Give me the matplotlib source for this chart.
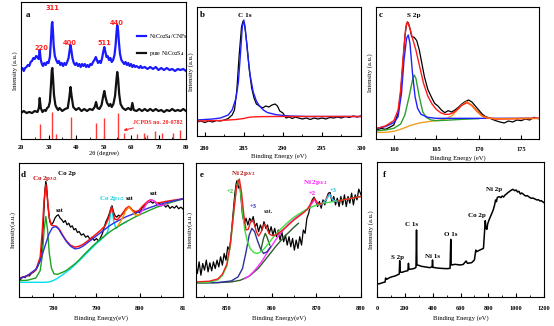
import matplotlib.pyplot as plt
from matplotlib.ticker import MultipleLocator

plt.rcParams['font.family'] = 'Liberation Serif'
plt.rcParams['font.weight'] = 'bold'
plt.rcParams['mathtext.fontset'] = 'stix'

# ---------------- (a) XRD ----------------
a_tt_cnf = [20, 20.5, 21, 21.5, 22, 22.5, 23, 23.5, 24, 24.5, 25, 25.5, 26, 26.4, 26.8, 27.2, 27.6, 28, 28.5, 29,
            29.5, 30, 30.5, 30.9, 31.2, 31.4, 31.6, 31.9, 32.3, 32.8, 33.3, 33.8, 34.3, 34.8, 35.3, 35.8, 36.3, 36.8,
            37.3, 37.7, 38, 38.3, 38.7, 39.2, 39.7, 40.2, 40.7, 41.2, 41.7, 42.2, 42.7, 43.2, 43.7, 44.2, 44.7, 45.2,
            45.7, 46.2, 46.7, 47.2, 47.6, 48, 48.5, 49, 49.5, 49.9, 50.3, 50.7, 51.1, 51.5, 52, 52.5, 53, 53.5, 54,
            54.4, 54.8, 55, 55.3, 55.6, 56, 56.5, 57, 57.5, 58, 58.5, 59, 59.5, 60, 60.5, 61, 61.5, 62, 63, 63.5, 64,
            65, 66, 67, 68, 69, 70, 71, 72, 73, 74, 75, 76, 77, 78, 79, 80]
a_int_cnf = [69, 71, 68, 71, 72, 74, 73, 77, 78, 81, 80, 83, 82, 80, 89, 79, 75, 73, 76, 74,
             77, 76, 82, 99, 115, 117, 109, 93, 83, 79, 76, 78, 74, 76, 73, 76, 74, 77,
             81, 89, 94, 89, 81, 76, 74, 76, 73, 75, 72, 75, 73, 75, 72, 74, 72, 75,
             74, 77, 79, 82, 79, 76, 78, 76, 81, 87, 92, 87, 82, 83, 79, 81, 77, 79, 84,
             94, 109, 114, 109, 97, 85, 79, 77, 75, 77, 74, 76, 73, 75, 72, 74, 72, 73, 71, 73, 71,
             72, 70, 72, 70, 72, 69, 71, 69, 71, 69, 70, 68, 70, 69, 70, 68]
a_tt_pure = [20, 21, 22, 23, 24, 25, 26, 26.5, 26.8, 27.2, 27.8, 28.5, 29, 29.5, 30, 30.5, 30.9, 31.2, 31.4, 31.6,
             32, 32.5, 33, 33.5, 34, 35, 36, 37, 37.6, 38, 38.4, 39, 40, 41, 42, 43, 44, 45, 46, 46.8, 47.3, 47.8,
             48.5, 49.3, 49.9, 50.3, 50.8, 51.3, 52, 52.5, 53, 53.6, 54.2, 54.7, 55, 55.3, 55.7, 56.2, 57, 58, 59,
             60, 60.5, 61, 62, 63, 64, 65, 66, 67, 68, 69, 70, 71, 72, 73, 74, 75, 76, 77, 78, 79, 80]
a_int_pure = [26, 28, 26, 27, 26, 28, 27, 31, 41, 31, 27, 29, 28, 31, 32, 37, 54, 69, 71, 63,
              44, 34, 31, 29, 31, 28, 30, 31, 42, 52, 43, 32, 29, 31, 28, 30, 28, 30, 29, 32, 37, 31,
              30, 34, 43, 48, 41, 36, 33, 35, 32, 35, 43, 59, 67, 61, 45, 35, 31, 29, 31,
              29, 36, 29, 28, 30, 28, 30, 28, 30, 28, 30, 28, 29, 27, 29, 28, 30, 28, 29, 28, 30, 28]
a_ref_pos = [26.8, 31.3, 32.8, 38.0, 47.2, 50.2, 55.1, 57.6, 62.2, 64.9, 65.8, 68.9, 71.3, 75.4, 77.8]
a_ref_int = [15, 27, 5, 22, 16, 21, 26, 6, 5, 6, 4, 8, 6, 6, 9]
a_hkl = ['220', '311', '400', '511', '440']
a_hkl_pos = [(27.3, 91), (31.3, 131), (37.8, 96), (50.2, 96), (54.9, 116)]

# ---------------- (b) C 1s ----------------
b_be_raw = [279, 279.5, 280, 280.5, 281, 281.5, 282, 282.5, 283, 283.5, 283.8, 284.1, 284.4, 284.7, 284.9, 285.1,
            285.4, 285.7, 286, 286.3, 286.6, 287, 287.4, 287.8, 288.2, 288.6, 289, 289.3, 289.6, 290, 290.4, 290.8,
            291.2, 291.6, 292, 292.5, 293, 293.5, 294, 294.5, 295, 295.5, 296, 296.5, 297, 297.5, 298, 298.5, 299,
            299.5, 300]
b_int_raw = [42, 45, 40.5, 45, 42, 46.5, 45, 48, 52.5, 63, 78, 138, 243, 327, 345, 333,
             273, 198, 144, 114, 96, 90, 84, 90, 87, 93, 96, 90, 75, 69, 54, 57,
             52.5, 57, 54, 51, 54, 49.5, 54, 51, 54, 51, 55.5, 54, 57, 54, 58.5, 55.5, 60,
             57, 60]
b_be_fit = [279, 280, 281, 282, 283, 283.5, 284, 284.3, 284.6, 284.8, 285, 285.2, 285.5, 285.8, 286.2, 286.6,
            287, 287.5, 288, 289, 290, 291, 293, 300]
b_int_fit = [48, 49.5, 51, 54, 63, 78, 114, 162, 258, 327, 348, 318, 243, 183, 132, 105,
             90, 78, 70.5, 64.5, 61.5, 60, 58.5, 58.5]
b_be_bg = [279, 282, 283, 284, 285, 285.5, 286, 287, 289, 300]
b_int_bg = [45, 46.5, 48, 49.5, 52.5, 55.5, 57, 58, 58.5, 58.5]

# ---------------- (c) S 2p ----------------
c_be_raw = [158, 158.5, 159, 159.5, 160, 160.5, 160.8, 161.1, 161.3, 161.5, 161.7, 161.9, 162.1, 162.4, 162.7, 163,
            163.3, 163.6, 164, 164.4, 164.8, 165.2, 165.6, 166, 166.4, 166.8, 167.2, 167.6, 168, 168.4, 168.8,
            169.2, 169.6, 170, 170.4, 170.8, 171.2, 171.6, 172, 172.5, 173, 173.5, 174, 174.5, 175, 175.5, 176,
            176.5, 177]
c_int_raw = [27, 32, 29, 35, 42, 77, 137, 237, 307, 347, 349, 332, 307, 305, 295, 267,
             227, 187, 149, 127, 107, 99, 87, 79, 85, 81, 87, 95, 105, 112, 117,
             111, 99, 87, 75, 67, 64, 59, 55, 51, 48, 54, 51, 57, 55, 60, 57,
             65, 61]
c_be_sum = [158, 159, 160, 160.5, 160.8, 161.1, 161.4, 161.6, 161.9, 162.2, 162.6, 163, 163.5, 164, 164.5, 165,
            165.5, 166, 166.5, 167, 167.5, 168, 168.6, 169.2, 169.8, 170.4, 171, 172, 177]
c_int_sum = [32, 39, 55, 87, 147, 247, 332, 352, 332, 302, 267, 222, 167, 129, 105, 89,
             79, 74, 74, 79, 89, 101, 109, 101, 84, 70, 63, 60, 62]
c_be_p32 = [158, 159, 160, 160.5, 160.9, 161.2, 161.5, 161.7, 161.9, 162.2, 162.5, 162.8, 163.2, 164, 165, 177]
c_int_p32 = [32, 37, 49, 67, 137, 237, 302, 312, 287, 197, 127, 92, 74, 65, 62, 62]
c_be_p12 = [158, 159, 160, 160.8, 161.3, 161.8, 162.2, 162.4, 162.6, 163, 163.4, 163.8, 164.4, 165, 166, 168, 170]
c_int_p12 = [25, 27, 32, 45, 72, 127, 177, 192, 182, 127, 82, 65, 57, 55, 56, 59, 61]
c_be_sat = [158, 159, 160, 161, 162, 163, 164, 165, 166, 166.8, 167.4, 168, 168.6, 169.2, 169.8, 170.4, 171, 172,
            177]
c_int_sat = [20, 20, 23, 31, 41, 48, 52, 55, 59, 69, 84, 102, 112, 100, 83, 69, 63, 61, 62]

# ---------------- (d) Co 2p ----------------
d_be_raw = [772, 772.5, 773, 773.5, 774, 774.5, 775, 775.5, 776, 776.5, 777, 777.5, 777.8, 778.1, 778.3, 778.5,
            778.8, 779.2, 779.6, 780, 780.4, 780.8, 781.2, 781.6, 782, 782.4, 782.8, 783.2, 783.6, 784, 784.4,
            784.8, 785.2, 785.6, 786, 786.5, 787, 787.5, 788, 788.5, 789, 789.5, 790, 790.5, 791, 791.4, 791.8,
            792.2, 792.6, 793, 793.4, 793.6, 793.9, 794.3, 794.7, 795.1, 795.5, 796, 796.5, 797, 797.5, 798,
            798.5, 799, 799.5, 800, 800.5, 801, 801.5, 802, 802.5, 803, 803.5, 804, 804.5, 805, 805.5, 806,
            806.5, 807, 807.5, 808, 808.5, 809, 809.5, 810]
d_int_raw = [56, 53, 61, 58, 65, 63, 71, 75, 81, 93, 111, 161, 241, 321, 346, 331,
             271, 226, 216, 223, 236, 243, 246, 236, 231, 223, 229, 216, 221, 209, 213,
             201, 205, 193, 196, 185, 189, 179, 183, 173, 179, 169, 175, 167, 179, 191, 209,
             226, 236, 251, 269, 273, 256, 243, 239, 245, 241, 249, 256, 263, 271, 265,
             256, 249, 255, 253, 266, 271, 279, 283, 286, 281, 285, 276, 281, 273, 279, 269,
             275, 265, 271, 266, 273, 264, 269, 263]
d_be_sum = [772, 774, 776, 777, 777.5, 777.9, 778.3, 778.7, 779.1, 779.6, 780.2, 780.8, 781.5, 782.2, 783, 784,
            785, 786, 787, 788, 789, 790, 791, 792, 792.8, 793.2, 793.5, 793.8, 794.2, 794.8, 795.5, 796.2,
            796.8, 797.5, 798.2, 799, 799.8, 800.6, 801.4, 802, 802.6, 803.2, 804, 805, 806, 807, 808, 809, 810]
d_int_sum = [56, 63, 81, 119, 201, 291, 336, 291, 236, 215, 213, 211, 201, 185, 169, 155,
             149, 152, 158, 168, 178, 189, 200, 213, 236, 256, 269, 256, 233, 231, 241, 253,
             265, 271, 261, 255, 259, 271, 281, 288, 291, 288, 281, 283, 286, 288, 290, 292, 294]
d_be_sat1 = [772, 774, 776, 777, 778, 779, 779.8, 780.5, 781.2, 782, 783, 784, 785, 786, 787, 788, 789, 790, 791,
             792, 793, 794, 795, 796, 797, 798, 799, 800, 802, 804, 806, 808, 810]
d_int_sat1 = [54, 64, 83, 108, 148, 188, 207, 211, 205, 187, 167, 152, 144, 146, 153, 163, 173, 183, 193,
              203, 213, 221, 228, 235, 241, 246, 251, 256, 266, 275, 282, 288, 294]
d_be_main = [772, 774, 776, 777, 777.5, 777.9, 778.3, 778.7, 779.1, 779.6, 780.2, 781, 782, 783, 784, 785, 786,
             787, 788, 789, 790, 791, 792, 793, 794, 795, 796, 797, 798, 799, 800, 802, 804, 806, 808, 810]
d_int_main = [49, 50, 57, 79, 126, 201, 241, 201, 131, 86, 69, 68, 73, 79, 89, 99, 111,
              125, 138, 151, 163, 174, 184, 194, 203, 211, 219, 226, 233, 240, 246, 258, 269, 278, 286, 293]
d_be_p12 = [772, 774, 776, 778, 779, 780, 781, 782, 784, 786, 788, 790, 791, 792, 792.6, 793, 793.5, 794, 794.5,
            795, 796, 797]
d_int_p12 = [44, 44, 44, 44, 45, 49, 56, 65, 84, 108, 134, 160, 171, 183, 196, 226, 269, 226, 205,
             211, 219, 226]
d_be_sat2 = [795, 796, 796.8, 797.5, 798.2, 799, 800]
d_int_sat2 = [213, 236, 259, 269, 259, 245, 246]
d_be_sat3 = [800, 801, 801.8, 802.6, 803.4, 804.2, 805, 806]
d_int_sat3 = [249, 266, 283, 291, 286, 276, 273, 278]

# ---------------- (e) Ni 2p ----------------
e_be_raw = [843, 843.4, 843.8, 844.2, 844.6, 845, 845.4, 845.8, 846.2, 846.6, 847, 847.4, 847.8, 848.2, 848.6, 849,
            849.4, 849.8, 850.2, 850.6, 851, 851.4, 851.8, 852.1, 852.3, 852.6, 852.9, 853.2, 853.5, 853.9, 854.3,
            854.7, 855.1, 855.5, 855.9, 856.3, 856.7, 857.1, 857.5, 857.9, 858.3, 858.7, 859.1, 859.5, 859.9,
            860.3, 860.7, 861.1, 861.5, 861.9, 862.3, 862.7, 863.1, 863.5, 863.9, 864.3, 864.7, 865.1, 865.5,
            865.9, 866.3, 866.7, 867.1, 867.5, 867.9, 868.3, 868.7, 869.1, 869.5, 869.9, 870.3, 870.7, 871.1,
            871.5, 871.9, 872.3, 872.7, 873.1, 873.5, 873.9, 874.3, 874.7, 875.1, 875.5, 875.9, 876.3, 876.7,
            877.1, 877.5, 877.9, 878.3, 878.7, 879.1, 879.5, 880]
e_int_raw = [100, 70, 105, 65, 100, 80, 110, 75, 102, 78, 105, 85, 110, 90, 120, 95,
             130, 110, 150, 140, 190, 250, 310, 340, 348, 325, 335, 290, 245, 220, 235,
             215, 235, 225, 240, 210, 220, 195, 215, 200, 225, 205, 215, 190, 210,
             185, 205, 180, 200, 170, 195, 165, 185, 155, 180, 150, 175, 140, 170,
             145, 180, 155, 200, 190, 235, 250, 275, 290, 298, 285, 270, 285, 265,
             290, 275, 295, 310, 312, 285, 300, 275, 295, 270, 300, 275, 305, 270,
             300, 280, 310, 275, 305, 290, 322, 305]
e_be_sum = [843, 846, 848, 849, 850, 850.8, 851.5, 852.2, 852.8, 853.3, 853.8, 854.3, 854.8, 855.2, 855.6, 856.1,
            856.6, 857.1, 857.7, 858.1, 858.5, 858.9, 859.5, 860.2, 861, 862, 863, 864, 865, 866, 867, 868,
            868.8, 869.6, 870.4, 871.2, 872, 872.6, 873, 873.6, 874.5, 876, 878, 880]
e_int_sum = [45, 47, 54, 68, 98, 160, 250, 330, 352, 310, 245, 200, 202, 220, 230, 220,
             195, 182, 195, 212, 218, 205, 188, 183, 186, 195, 206, 218, 230, 240, 250, 262,
             280, 295, 278, 278, 288, 302, 307, 290, 285, 290, 295, 300]
e_be_ni2 = [843, 846, 848, 849, 850, 850.8, 851.5, 852.1, 852.6, 853, 853.5, 854, 854.6, 855.3, 856, 856.8, 857.6,
            858.4, 859.2, 860, 861, 862, 863, 864, 865, 866, 867, 868, 869, 870, 872, 874, 876, 878, 880]
e_int_ni2 = [42, 44, 51, 64, 92, 155, 245, 325, 350, 325, 255, 200, 165, 143, 133, 130, 135,
             145, 158, 172, 188, 202, 215, 227, 238, 247, 255, 263, 269, 274, 281, 285, 290, 295, 300]
e_be_ni3 = [843, 848, 851, 852.5, 853.5, 854.3, 855, 855.6, 856.2, 856.8, 857.5, 858.2, 859, 859.8]
e_int_ni3 = [42, 43, 48, 60, 85, 135, 185, 205, 195, 170, 145, 130, 135, 150]
e_be_bg = [843, 848, 851, 853, 855, 857, 859, 861, 863, 865, 866]
e_int_bg = [42, 43, 45, 50, 62, 85, 118, 152, 182, 208, 220]
e_be_sat = [857.6, 858.2, 858.6, 859, 859.6]
e_int_sat = [140, 175, 190, 178, 155]
e_be_p12 = [854, 855, 856, 857, 858, 859, 860, 861, 862, 863, 864, 865, 866, 867, 868, 868.8, 869.6, 870.4, 871]
e_int_p12 = [55, 63, 76, 92, 110, 132, 152, 172, 190, 206, 220, 232, 243, 252, 262, 275, 290, 276, 275]
e_be_p12b = [871.5, 872.3, 873, 873.7, 874.5]
e_int_p12b = [280, 292, 307, 290, 285]

# ---------------- (f) survey ----------------
f_be = [0, 20, 40, 58, 62, 70, 90, 110, 130, 150, 160, 163, 166, 180, 200, 222, 226, 230, 250, 270, 280, 284, 287,
        300, 320, 350, 380, 396, 399, 402, 430, 460, 500, 525, 530, 533, 560, 600, 620, 640, 650, 680, 700, 710,
        716, 730, 750, 765, 772, 778, 783, 790, 795, 805, 815, 825, 835, 845, 852, 858, 865, 880, 890, 900, 910,
        920, 930, 940, 950, 960, 975, 990, 1000, 1010, 1020, 1030, 1040, 1050, 1060, 1070, 1080, 1090, 1100,
        1110, 1120, 1130, 1140, 1150, 1160, 1170, 1180, 1190, 1200]
f_int = [39, 40, 43, 45, 57, 53, 58, 61, 63, 67, 69, 109, 75, 74, 77, 79, 101, 83, 84, 86, 89, 201, 96,
         95, 92, 90, 88, 91, 111, 89, 87, 86, 85, 86, 173, 96, 98, 96, 98, 108, 101, 103, 111, 141,
         136, 139, 143, 146, 191, 229, 206, 203, 219, 231, 241, 251, 261, 276, 291, 286, 299, 301, 298, 303, 300,
         306, 309, 313, 316, 319, 323, 319, 321, 315, 317, 309, 312, 309, 305, 303, 304, 301, 298,
         296, 297, 295, 293, 291, 292, 288, 289, 286, 283]
f_labels = [('S 2p', 147, 119), ('C 1s', 250, 216), ('Ni 1s', 397, 123), ('O 1s', 530, 189),
            ('Co 2p', 720, 246), ('Ni 2p', 844, 321)]

W, H = 554, 326
fig = plt.figure(figsize=(W / 100, H / 100), dpi=100)


def add_panel(left, top, right, bottom, tick_pad):
    ax = fig.add_axes([left / W, 1 - bottom / H, (right - left) / W, (bottom - top) / H])
    ax.tick_params(axis='x', which='major', direction='in', length=3, width=0.8, labelsize=4.6, pad=tick_pad)
    ax.tick_params(axis='x', which='minor', direction='in', length=1.6, width=0.6)
    ax.tick_params(axis='y', which='both', left=False, labelleft=False)
    for sp in ax.spines.values():
        sp.set_linewidth(0.8)
    ax.set_ylabel('Intensity (a.u.)', fontsize=4.8, labelpad=2)
    return ax


def tag(ax, letter, x, y):
    ax.text(x, y, letter, fontsize=6.5, fontweight='bold', ha='left', va='center')


# (a)
ax = add_panel(21, 2, 186, 139, 4.3)
ax.plot(a_tt_cnf, a_int_cnf, color='#1a1aff', lw=1.6, label='NiCo$_2$S$_4$/CNFs')
ax.plot(a_tt_pure, a_int_pure, color='#111111', lw=1.6, label='pure NiCo$_2$S$_4$')
ax.vlines(a_ref_pos, 0, a_ref_int, color='#ff3a3a', lw=1.0)
for txt, (x, y) in zip(a_hkl, a_hkl_pos):
    ax.text(x, y, txt, color='#ff2020', fontsize=4.8, ha='center', va='center', family='DejaVu Sans')
ax.annotate('JCPDS no. 20-0782', xy=(56.3, 8), xytext=(60.7, 17), color='#ff2020', fontsize=4.3,
            va='center', ha='left', arrowprops=dict(arrowstyle='->', color='#ff2020', lw=0.7))
ax.set_xlim(20, 80)
ax.set_ylim(0, 137)
ax.xaxis.set_major_locator(MultipleLocator(10))
ax.xaxis.set_minor_locator(MultipleLocator(5))
ax.set_xlabel('2θ (degree)', fontsize=4.8, labelpad=0.5)
ax.legend(loc='upper left', bbox_to_anchor=(0.67, 0.82), frameon=False, handlelength=1.6,
          prop={'size': 4.3, 'weight': 'normal'}, labelspacing=1.3, handletextpad=0.4)
tag(ax, 'a', 21.6, 124)

# (b)
ax = add_panel(197, 7, 361, 136, 7)
ax.plot(b_be_raw, b_int_raw, color='black', lw=0.9)
ax.plot(b_be_fit, b_int_fit, color='#1f1fff', lw=1.0)
ax.plot(b_be_bg, b_int_bg, color='#ff1a1a', lw=1.0)
ax.text(285.1, 363, 'C 1s', fontsize=5.2, ha='center', va='center')
ax.set_xlim(279, 300)
ax.set_ylim(0, 387)
ax.xaxis.set_major_locator(MultipleLocator(5))
ax.xaxis.set_minor_locator(MultipleLocator(2.5))
ax.set_xlabel('Binding Energy (eV)', fontsize=4.8, labelpad=2)
tag(ax, 'b', 279.4, 363)

# (c)
ax = add_panel(376, 7, 539, 139, 5.8)
ax.plot(c_be_raw, c_int_raw, color='black', lw=0.9)
ax.plot(c_be_sat, c_int_sat, color='#f0a020', lw=1.0)
ax.plot(c_be_p12, c_int_p12, color='#2ca02c', lw=1.0)
ax.plot(c_be_p32, c_int_p32, color='#2020ff', lw=1.0)
ax.plot(c_be_sum, c_int_sum, color='#ff1a1a', lw=1.0)
ax.plot(c_be_sat[-7:], c_int_sat[-7:], color='#ff7010', lw=1.0)
ax.text(162.3, 372, 'S 2p', fontsize=5.2, ha='center', va='center')
ax.set_xlim(157.9, 177.1)
ax.set_ylim(0, 396)
ax.xaxis.set_major_locator(MultipleLocator(5))
ax.xaxis.set_minor_locator(MultipleLocator(2.5))
ax.set_xlabel('Binding Energy (eV)', fontsize=4.8, labelpad=2)
tag(ax, 'c', 158.2, 372)

# (d)
ax = add_panel(19, 163, 183, 297, 6.8)
ax.plot(d_be_raw, d_int_raw, color='black', lw=0.9)
ax.plot(d_be_p12, d_int_p12, color='#00e0f0', lw=1.0)
ax.plot(d_be_main, d_int_main, color='#20a020', lw=1.0)
ax.plot(d_be_sum, d_int_sum, color='#ff1010', lw=1.1)
ax.plot(d_be_sat1, d_int_sat1, color='#3030e0', lw=1.0)
ax.plot(d_be_sat2, d_int_sat2, color='#ff8c00', lw=1.0)
ax.plot(d_be_sat3, d_int_sat3, color='#ff30ff', lw=1.0)
ax.text(778.1, 356, 'Co 2p$_{3/2}$', color='#c01010', fontsize=5, ha='center', va='center')
ax.text(783.1, 369, 'Co 2p', fontsize=5, ha='center', va='center')
ax.text(781.4, 258, 'sat', fontsize=4.5, ha='center', va='center')
ax.text(793.5, 294, 'Co 2p$_{1/2}$', color='#10d0e0', fontsize=5, ha='center', va='center')
ax.text(797.7, 294, 'sat', fontsize=4.5, ha='center', va='center')
ax.text(803.1, 311, 'sat', fontsize=4.5, ha='center', va='center')
ax.set_xlim(772.1, 810)
ax.set_ylim(0, 401)
ax.set_xticks([780, 790, 800, 810])
ax.set_xticklabels(['780', '790', '800', '81'])
ax.xaxis.set_minor_locator(MultipleLocator(5))
ax.set_xlabel('Binding Energy(eV)', fontsize=4.8, labelpad=3)
ax.set_ylabel('Intensity(a.u.)', fontsize=4.8, labelpad=2)
tag(ax, 'd', 772.5, 366)

# (e)
ax = add_panel(196, 163, 361, 297, 6.8)
ax.plot(e_be_raw, e_int_raw, color='black', lw=0.9)
ax.plot(e_be_bg, e_int_bg, color='#2e5e2e', lw=1.0)
ax.plot(e_be_p12, e_int_p12, color='#ff30ff', lw=1.0)
ax.plot(e_be_ni3, e_int_ni3, color='#303099', lw=1.0)
ax.plot(e_be_sat, e_int_sat, color='#2e5e2e', lw=1.0)
ax.plot(e_be_ni2, e_int_ni2, color='#40e040', lw=1.0)
ax.plot(e_be_sum, e_int_sum, color='#ee2020', lw=1.0)
ax.plot(e_be_p12b, e_int_p12b, color='#30c8e8', lw=1.0)
ax.text(853.7, 370, 'Ni 2p$_{3/2}$', color='#b01818', fontsize=5, ha='center', va='center')
ax.text(850.8, 315, '+2', color='#30c030', fontsize=4.8, ha='center', va='center')
ax.text(856.0, 270, '+3', color='#3030b0', fontsize=4.8, ha='center', va='center')
ax.text(859.4, 255, 'sat.', color='#333333', fontsize=4.5, ha='center', va='center')
ax.text(869.7, 342, 'Ni 2p$_{1/2}$', color='#ff10ff', fontsize=5, ha='center', va='center')
ax.text(869.0, 310, '+2', color='#ff10ff', fontsize=4.8, ha='center', va='center')
ax.text(873.8, 318, '+3', color='#20c0e0', fontsize=4.8, ha='center', va='center')
ax.set_xlim(843.1, 880)
ax.set_ylim(0, 400)
ax.xaxis.set_major_locator(MultipleLocator(10))
ax.xaxis.set_minor_locator(MultipleLocator(5))
ax.set_xlabel('Binding Energy(eV)', fontsize=4.8, labelpad=3)
ax.set_ylabel('Intensity(a.u.)', fontsize=4.8, labelpad=2)
tag(ax, 'e', 844, 365)

# (f)
ax = add_panel(377, 162, 544, 297, 6.8)
ax.plot(f_be, f_int, color='black', lw=1.1)
for txt, x, y in f_labels:
    ax.text(x, y, txt, fontsize=5, ha='center', va='center')
ax.set_xlim(0, 1200)
ax.set_ylim(0, 405)
ax.xaxis.set_major_locator(MultipleLocator(200))
ax.xaxis.set_minor_locator(MultipleLocator(100))
ax.set_xlabel('Binding Energy (eV)', fontsize=4.8, labelpad=3)
tag(ax, 'f', 40, 366)

fig.savefig('out.png', dpi=100)
